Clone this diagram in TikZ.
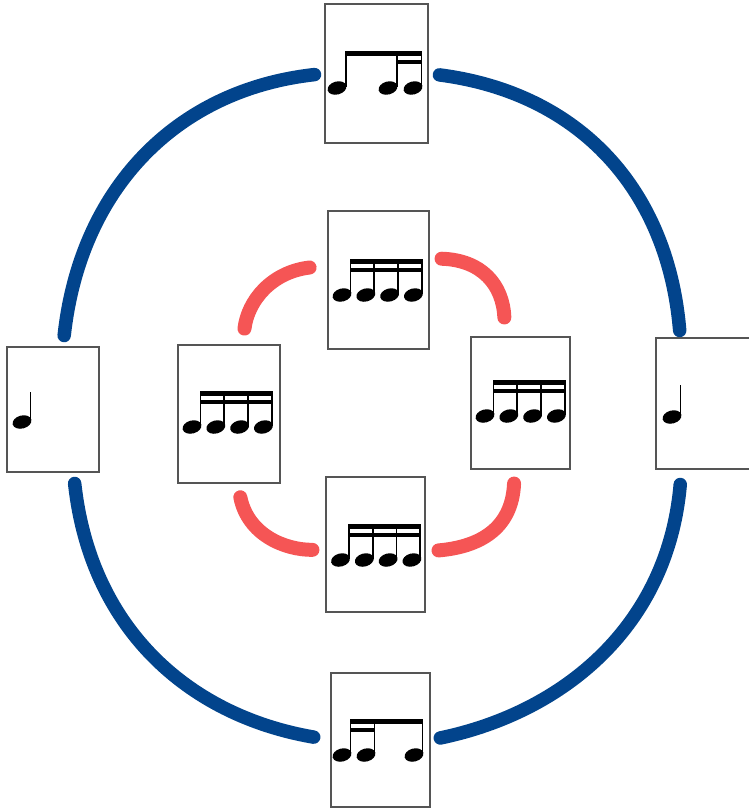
\documentclass[tikz,border=0pt]{standalone}
\usetikzlibrary{positioning,calc}
\definecolor{ringblue}{RGB}{2,68,140}
\definecolor{ringred}{RGB}{245,85,85}
\definecolor{cardgray}{RGB}{85,85,85}
\tikzset{%
	card/.style      = {draw=cardgray, rectangle, line width=1.1pt, minimum width=101pt, minimum height=138pt, inner sep=0pt}, % Card
	outerring/.style = {draw=ringblue, line width=13.5pt, line cap=round}, % Outer ring
	innerring/.style = {draw=ringred, line width=14pt, line cap=round}, % Inner ring
	stem/.style      = {line width=1.8pt},
}
% note head and stem
\newcommand{\nhead}[2]{\fill[rotate around={15:(#1,#2)}] (#1,#2) ellipse [x radius=9.6, y radius=6.5];}
\newcommand{\nstem}[3]{\draw[stem] (#1,#2) -- (#1,#3);}
% four sixteenths: first head x, head y
\newcommand{\sixteenths}[2]{%
	\foreach \i in {0,...,3} {
		\nhead{#1+23.8*\i}{#2}
		\nstem{#1+8.4+23.8*\i}{#2-35.5}{#2-1}
	}
	\fill (#1+7.5,#2-36) rectangle (#1+9.3+71.4,#2-31);
	\fill (#1+7.5,#2-27.5) rectangle (#1+9.3+71.4,#2-23.5);
}

\begin{document}
\begin{tikzpicture}[x=1pt,y=-1pt]
	\useasboundingbox (0,0) rectangle (748,809);
	\node[card,minimum width=103pt,minimum height=139pt] (top) at (376.5,73.5) {};
	\node[card] (itop) at (378.5,280) {};
	\node[card,minimum width=92pt,minimum height=125pt] (left) at (53,409.5) {};
	\node[card,minimum width=102pt] (ileft) at (229,414) {};
	\node[card,minimum width=99pt,minimum height=132pt] (iright) at (520.5,403) {};
	\node[card,minimum width=94pt,minimum height=131pt] (right) at (703,403.5) {};
	\node[card,minimum width=99pt,minimum height=135pt] (ibottom) at (375.5,544.5) {};
	\node[card,minimum width=99pt,minimum height=134pt] (bottom) at (380.5,740) {};
	
	% outer ring
	\draw[outerring, shorten <=10pt, shorten >=11pt] (top.west) .. controls (175,90) and (80,190) .. (left.81);
	\draw[outerring, shorten <=11pt, shorten >=7pt] (top.east) .. controls (580,93) and (668,190) .. (right.109);
	\draw[outerring, shorten <=15pt, shorten >=10pt] (right.252) .. controls (668,625) and (565,712) .. (bottom.east);
	\draw[outerring, shorten <=11pt, shorten >=17pt] (left.288) .. controls (90,625) and (185,715) .. (bottom.west);
	% inner ring
	\draw[innerring, shorten <=18pt, shorten >=16pt] (itop.164) .. controls (272,272) and (248,300) .. (ileft.79);
	\draw[innerring, shorten <=12pt, shorten >=19pt] (itop.23) .. controls (482,260) and (503,285) .. (iright.103);
	\draw[innerring, shorten <=14pt, shorten >=13pt] (iright.265) .. controls (512,530) and (478,547) .. (ibottom.352);
	\draw[innerring, shorten <=14pt, shorten >=13pt] (ileft.277) .. controls (248,535) and (285,550) .. (ibottom.186);
	
	% quarter notes
	\nhead{22}{422} \nstem{30.4}{392}{421}
	\nhead{672}{417} \nstem{680.4}{385}{416}
	% eighth and two sixteenths
	\nhead{337}{88} \nhead{388}{88} \nhead{413}{88}
	\foreach \x in {345.9,396.6,421.4} {\nstem{\x}{51}{87}}
	\fill (345,50.5) rectangle (422.3,55.5);
	\fill (395.7,60) rectangle (422.3,64);
	% two sixteenths and eighth
	\nhead{342}{755} \nhead{366}{755} \nhead{414}{755}
	\foreach \x in {350.4,374.4,422.4} {\nstem{\x}{719}{754}}
	\fill (349.5,718.5) rectangle (423.3,723.5);
	\fill (349.5,727.5) rectangle (375.3,731.5);
	% sixteenths
	\sixteenths{342}{295}
	\sixteenths{192}{427}
	\sixteenths{485}{416}
	\sixteenths{340.5}{560}
\end{tikzpicture}
\end{document}
